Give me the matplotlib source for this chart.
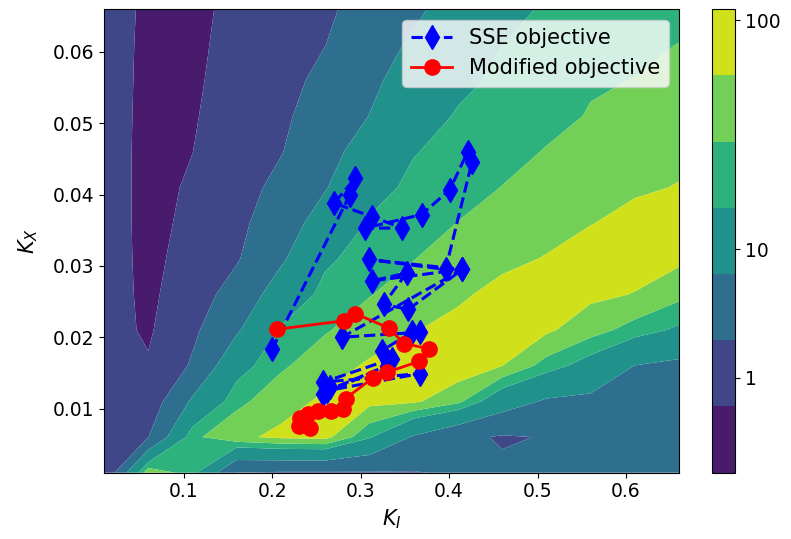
import numpy as np
import matplotlib
matplotlib.use("Agg")
import matplotlib.pyplot as plt

# Grid of controller gains
ki_grid = [0.01, 0.06, 0.11, 0.16, 0.21, 0.26, 0.31, 0.36, 0.41, 0.46, 0.51, 0.56, 0.61, 0.66]
kx_grid = [0.001, 0.006, 0.011, 0.016, 0.021, 0.026, 0.031, 0.036, 0.041, 0.046, 0.051, 0.056, 0.061, 0.066]

# Objective value on the grid (rows: K_X, columns: K_I)
objective = [
    [0.676, 56.2, 26.9, 1.93, 1.78, 1.78, 1.82, 1.86, 2.14, 2.32, 2.63, 2.88, 2.95, 3.02],
    [0.794, 1.91, 31.6, 56.2, 70.8, 75.9, 22.8, 5.75, 2.45, 1.78, 2.04, 3.16, 3.31, 3.39],
    [0.832, 1.00, 7.59, 30.8, 51.6, 69.2, 74.1, 69.2, 41.7, 11.2, 5.62, 5.01, 4.17, 3.80],
    [0.851, 0.661, 2.24, 15.6, 33.0, 50.1, 67.6, 75.9, 89.1, 63.5, 28.8, 15.0, 6.31, 5.01],
    [0.871, 0.525, 1.58, 5.62, 23.2, 34.3, 47.9, 61.7, 72.4, 85.1, 69.2, 45.5, 28.6, 18.5],
    [0.955, 0.479, 1.15, 3.09, 11.0, 26.1, 35.1, 46.6, 58.5, 72.4, 83.2, 70.8, 61.7, 42.2],
    [0.977, 0.457, 0.902, 1.78, 5.50, 18.6, 28.2, 35.5, 45.9, 56.6, 64.6, 85.1, 79.4, 70.8],
    [0.977, 0.447, 0.759, 1.48, 3.80, 10.2, 22.7, 29.6, 36.3, 45.4, 53.8, 61.7, 75.9, 79.4],
    [0.977, 0.447, 0.676, 1.26, 2.63, 6.03, 15.8, 24.7, 30.7, 36.3, 44.5, 51.9, 58.2, 64.6],
    [0.977, 0.447, 0.596, 1.12, 1.86, 4.57, 10.1, 20.3, 26.2, 31.6, 36.8, 43.7, 49.8, 55.7],
    [0.977, 0.457, 0.550, 1.00, 1.58, 3.47, 6.52, 14.5, 22.4, 27.5, 32.2, 36.9, 42.7, 47.9],
    [0.977, 0.468, 0.513, 0.912, 1.38, 2.57, 5.13, 10.4, 17.8, 24.0, 28.4, 34.7, 36.3, 41.7],
    [0.977, 0.479, 0.490, 0.832, 1.23, 1.93, 4.07, 7.41, 13.5, 20.9, 25.1, 32.4, 33.1, 36.3],
    [0.955, 0.501, 0.479, 0.759, 1.12, 1.58, 3.24, 5.25, 10.2, 18.2, 22.1, 30.2, 30.9, 31.6],
]

# Contour levels of the objective
levels = [0.18, 0.6, 1.95, 6.4, 21, 36, 63, 110]
cbar_ticks = [1, 10, 100]
cbar_ticklabels = ["1", "10", "100"]

# Optimizer iterates, SSE objective
sse_ki = [0.200, 0.288, 0.294, 0.270, 0.313, 0.347, 0.305, 0.369, 0.401, 0.421,
          0.426, 0.396, 0.309, 0.415, 0.313, 0.352, 0.326, 0.354, 0.415, 0.279,
          0.367, 0.358, 0.324, 0.336, 0.258, 0.367, 0.262, 0.330, 0.257, 0.265]
sse_kx = [0.0183, 0.0400, 0.0423, 0.0388, 0.0369, 0.0353, 0.0353, 0.0372, 0.0407, 0.0460,
          0.0446, 0.0295, 0.0309, 0.0295, 0.0279, 0.0290, 0.0246, 0.0239, 0.0295, 0.0200,
          0.0207, 0.0207, 0.0181, 0.0170, 0.0137, 0.0149, 0.0125, 0.0160, 0.0120, 0.0130]

# Optimizer iterates, modified objective
mod_ki = [0.205, 0.281, 0.294, 0.332, 0.349, 0.377, 0.366, 0.330, 0.314, 0.283,
          0.280, 0.266, 0.252, 0.241, 0.231, 0.230, 0.243, 0.235]
mod_kx = [0.0211, 0.0223, 0.0233, 0.0213, 0.0191, 0.0184, 0.0166, 0.0151, 0.0143, 0.0114,
          0.0100, 0.0096, 0.0097, 0.0093, 0.0087, 0.0075, 0.0072, 0.0082]

fig = plt.figure(figsize=(7.91, 5.39), dpi=100)
ax = fig.add_axes([0.1315, 0.123, 0.727, 0.860])
cax = fig.add_axes([0.8997, 0.123, 0.0295, 0.860])

nb = len(levels) - 1
band_colors = [plt.cm.viridis((k + 0.5) / nb) for k in range(nb)]

log_obj = np.log10(np.array(objective))
cs = ax.contourf(ki_grid, kx_grid, log_obj, levels=np.log10(levels),
                 colors=band_colors, antialiased=True)

ax.plot(sse_ki, sse_kx, "b--d", lw=2.2, ms=12.5, label="SSE objective", zorder=3)
ax.plot(mod_ki, mod_kx, "r-o", lw=2.0, ms=11, label="Modified objective", zorder=4)

ax.set_xticks([0.1, 0.2, 0.3, 0.4, 0.5, 0.6])
ax.set_yticks([0.01, 0.02, 0.03, 0.04, 0.05, 0.06])
ax.tick_params(labelsize=13.5)
ax.set_xlabel("$K_I$", fontsize=15)
ax.set_ylabel("$K_X$", fontsize=15, labelpad=9)
ax.legend(loc="upper right", fontsize=15)

cb = fig.colorbar(cs, cax=cax)
cb.set_ticks(np.log10(cbar_ticks))
cb.set_ticklabels(cbar_ticklabels)
cb.ax.tick_params(labelsize=13.5)

fig.savefig("out.png", dpi=100)
